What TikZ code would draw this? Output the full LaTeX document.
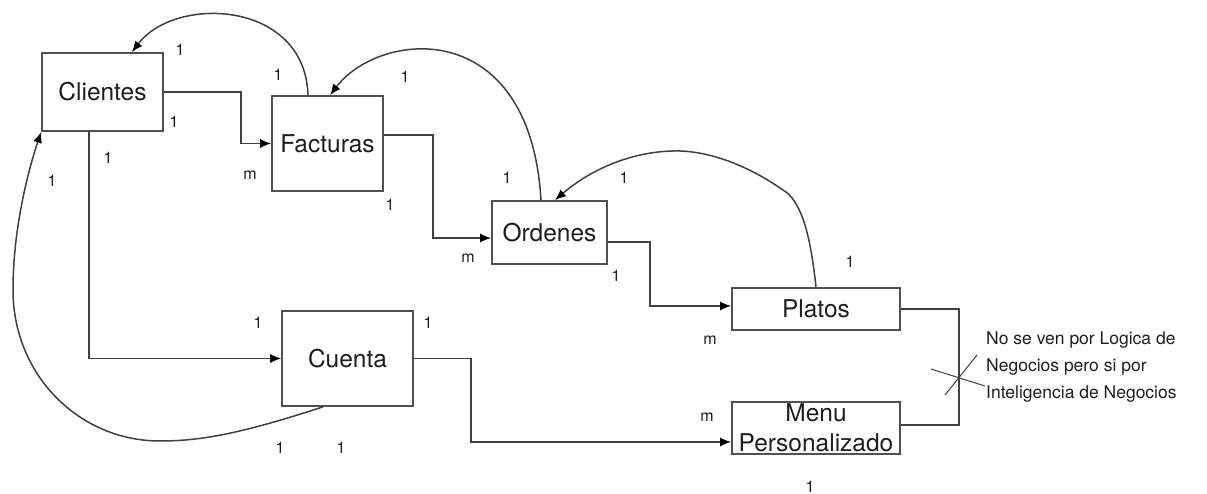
\documentclass[tikz,border=0pt]{standalone}
\usepackage{fontspec}
\setmainfont{TeX Gyre Heros}
\usetikzlibrary{arrows.meta}
\definecolor{boxc}{HTML}{505050}
\definecolor{lnc}{HTML}{404040}
\definecolor{txtc}{HTML}{1E1E1E}
\begin{document}
\begin{tikzpicture}[x=1pt,y=-1pt,
  ent/.style={draw=boxc, line width=1.7pt, inner sep=0pt, font=\fontsize{24.5}{30}\selectfont, text=txtc},
  conn/.style={draw=lnc, line width=1.5pt},
  arr/.style={conn, -{Latex[length=11pt,width=9pt,fill=black,color=black]}},
  card/.style={font=\fontsize{16}{18}\selectfont, text=txtc, inner sep=0pt},
  note/.style={font=\fontsize{17.5}{27}\selectfont, text=txtc, inner sep=0pt, anchor=west}]
\useasboundingbox[fill=white] (0,0) rectangle (1207,494);

% entities
\node[ent, minimum width=121pt, minimum height=78pt] (clientes) at (102.5,92) {Clientes};
\node[ent, minimum width=111pt, minimum height=95pt] (facturas) at (327.5,143.5) {Facturas};
\node[ent, minimum width=115pt, minimum height=63pt] (ordenes) at (549.5,232.5) {Ordenes};
\node[ent, minimum width=168pt, minimum height=42pt] (platos) at (816,309) {Platos};
\node[ent, minimum width=131pt, minimum height=95pt] (cuenta) at (347.5,358.5) {Cuenta};
\node[ent, minimum width=168pt, minimum height=52pt] (menu) at (816,428) {};
\node[font=\fontsize{24.5}{30}\selectfont, text=txtc, inner sep=0pt, align=center] (menutxt) at (816,428) {Menu\\Personalizado};

% orthogonal connectors
\draw[arr] (clientes.east) -- ++(77,0) |- (facturas.west);
\draw[arr] ([xshift=-13.5pt]clientes.south) |- (cuenta.west);
\draw[arr] ([yshift=8.5pt]facturas.east) -- ++(49,0) |- ([yshift=-5.5pt]ordenes.west);
\draw[arr] ([yshift=-9.5pt]ordenes.east) -- ++(42,0) |- ([yshift=3pt]platos.west);
\draw[arr] (cuenta.east) -- ++(57,0) |- ([yshift=-14pt]menu.west);
\draw[conn] (platos.east) -- ++(58,0) coordinate (bk) |- ([yshift=3pt]menu.east);

% curved connectors
\draw[arr] ([xshift=-19.5pt]facturas.north) .. controls (305,0) and (175,-5) .. ([xshift=29.5pt]clientes.north);
\draw[arr] ([xshift=-8.5pt]ordenes.north) .. controls (530,15) and (380,30) .. ([xshift=2.5pt]facturas.north);
\draw[arr] (platos.north) .. controls (810,230) and (800,200) .. (783,190)
  .. controls (740,160) and (700,150) .. (673,151)
  .. controls (630,152) and (590,170) .. ([xshift=5.5pt]ordenes.north);
\draw[arr] ([xshift=-24.5pt]cuenta.south) .. controls (240,434) and (200,441) .. (160,441)
  .. controls (79,441) and (13,375) .. (13,290)
  .. controls (13,225) and (30,165) .. (clientes.south west);

% cross mark
\coordinate (xc) at (958,378);
\draw[conn, line width=1pt] (931,369) -- (985,386);
\draw[conn, line width=1pt] (945,395) -- (977,355);

% cardinalities
\node[card] (c1) at (180,50) {1};
\node[card] (c2) at (278,75) {1};
\node[card] (c3) at (174,122) {1};
\node[card] (c4) at (108,158) {1};
\node[card] (c5) at (52,181) {1};
\node[card] (c6) at (250,175) {m};
\node[card] (c7) at (405,77) {1};
\node[card] (c8) at (390,205) {1};
\node[card] (c9) at (507,178) {1};
\node[card] (c10) at (624,178) {1};
\node[card] (c11) at (468,258) {m};
\node[card] (c12) at (616,276) {1};
\node[card] (c13) at (850,262) {1};
\node[card] (c14) at (710,340) {m};
\node[card] (c15) at (258,323) {1};
\node[card] (c16) at (428,323) {1};
\node[card] (c17) at (280,448) {1};
\node[card] (c18) at (341,448) {1};
\node[card] (c19) at (707,417) {m};
\node[card] (c20) at (810,487) {1};

% note
\node[note] (n1) at (986,340) {No se ven por Logica de};
\node[note] (n2) at (986,367) {Negocios pero si por};
\node[note] (n3) at (986,394) {Inteligencia de Negocios};
\end{tikzpicture}
\end{document}
